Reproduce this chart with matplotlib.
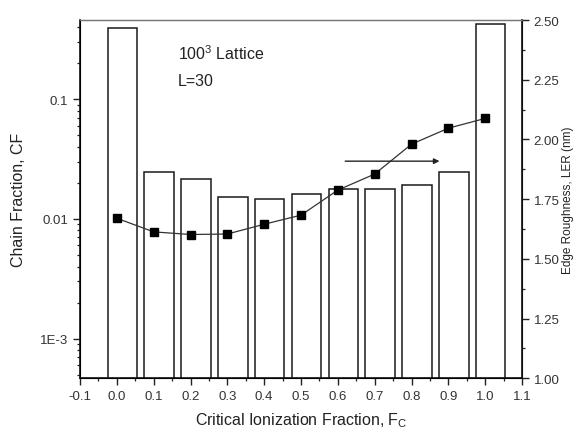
import matplotlib
matplotlib.use("Agg")
import matplotlib.pyplot as plt
from matplotlib.ticker import LogLocator, MultipleLocator, FixedLocator, NullFormatter

plt.rcParams['font.family'] = ['Liberation Sans', 'DejaVu Sans']

# Critical ionization fraction values
fc = [0.0, 0.1, 0.2, 0.3, 0.4, 0.5, 0.6, 0.7, 0.8, 0.9, 1.0]
# Chain fraction (left, log axis)
chain_fraction = [0.393, 0.0248, 0.0214, 0.0153, 0.0148, 0.0163, 0.0179, 0.0178, 0.0191, 0.0245, 0.425]
# Line edge roughness in nm (right axis)
ler = [1.670, 1.613, 1.602, 1.604, 1.645, 1.683, 1.788, 1.855, 1.980, 2.047, 2.088]
x_ticks = [-0.1, 0.0, 0.1, 0.2, 0.3, 0.4, 0.5, 0.6, 0.7, 0.8, 0.9, 1.0, 1.1]
right_ticks = [1.00, 1.25, 1.50, 1.75, 2.00, 2.25, 2.50]

fig = plt.figure(figsize=(5.77, 4.35), dpi=100)
ax = fig.add_axes([80 / 577, 1 - 379.3 / 435, 442 / 577, 358.3 / 435])

bar_offset = 0.015
ax.bar([v + bar_offset for v in fc], chain_fraction, width=0.08,
       facecolor='white', edgecolor='#1a1a1a', linewidth=1.1, zorder=2)
ax.set_yscale('log')
ax.set_ylim(4.65e-4, 0.46)
ax.set_xlim(-0.1, 1.1)

ax.xaxis.set_major_locator(FixedLocator(x_ticks))
ax.set_xticklabels([f"{v:.1f}" for v in x_ticks])
ax.xaxis.set_minor_locator(MultipleLocator(0.05))
ax.yaxis.set_minor_locator(LogLocator(base=10, subs=range(2, 10), numticks=20))
ax.yaxis.set_minor_formatter(NullFormatter())
ax.set_yticks([1e-3, 1e-2, 1e-1])
ax.set_yticklabels(['1E-3', '0.01', '0.1'])

ax.tick_params(axis='both', which='major', direction='out', length=5, width=1.0,
               labelsize=9.5, colors='#222222', labelcolor='#333333')
ax.tick_params(axis='both', which='minor', direction='out', length=2.5, width=0.9,
               colors='#222222')
ax.tick_params(axis='x', top=False, which='both')

for side in ['left', 'bottom']:
    ax.spines[side].set_linewidth(1.2)
    ax.spines[side].set_color('#111111')
ax.spines['top'].set_color('#777777')
ax.spines['top'].set_linewidth(1.0)

ax.set_xlabel('Critical Ionization Fraction, F$_\\mathregular{C}$', fontsize=11.5,
              color='#222222', labelpad=6)
ax.set_ylabel('Chain Fraction, CF', fontsize=11.5, color='#222222', labelpad=10)

ax2 = ax.twinx()
ax2.set_ylim(1.0, 2.5)
ax2.yaxis.set_major_locator(FixedLocator(right_ticks))
ax2.set_yticklabels([f"{v:.2f}" for v in right_ticks])
ax2.yaxis.set_minor_locator(MultipleLocator(0.125))
ax2.tick_params(axis='y', which='major', direction='out', length=5, width=1.0,
                labelsize=9.5, colors='#222222', labelcolor='#333333')
ax2.tick_params(axis='y', which='minor', direction='out', length=2.5, width=0.9,
                colors='#222222')
ax2.spines['right'].set_linewidth(1.2)
ax2.spines['right'].set_color('#111111')
ax2.spines['top'].set_color('#777777')
ax2.set_ylabel('Edge Roughness, LER (nm)', fontsize=8.5, color='#222222', labelpad=2)

ax2.plot(fc, ler, color='#333333', linewidth=0.9, marker='s', markersize=5.5,
         markerfacecolor='black', markeredgecolor='black', zorder=3)

ax2.annotate('', xy=(0.876, 1.909), xytext=(0.62, 1.909),
             arrowprops=dict(arrowstyle='-|>', color='#222222', lw=1.0,
                             mutation_scale=8, shrinkA=0, shrinkB=0))

ax.text(0.165, 0.245, '100$^\\mathregular{3}$ Lattice', fontsize=11.5, color='#222222',
        ha='left', va='center', transform=ax.transData)
ax.text(0.165, 0.143, 'L=30', fontsize=11.5, color='#222222',
        ha='left', va='center', transform=ax.transData)

fig.savefig('out.png', dpi=100)
